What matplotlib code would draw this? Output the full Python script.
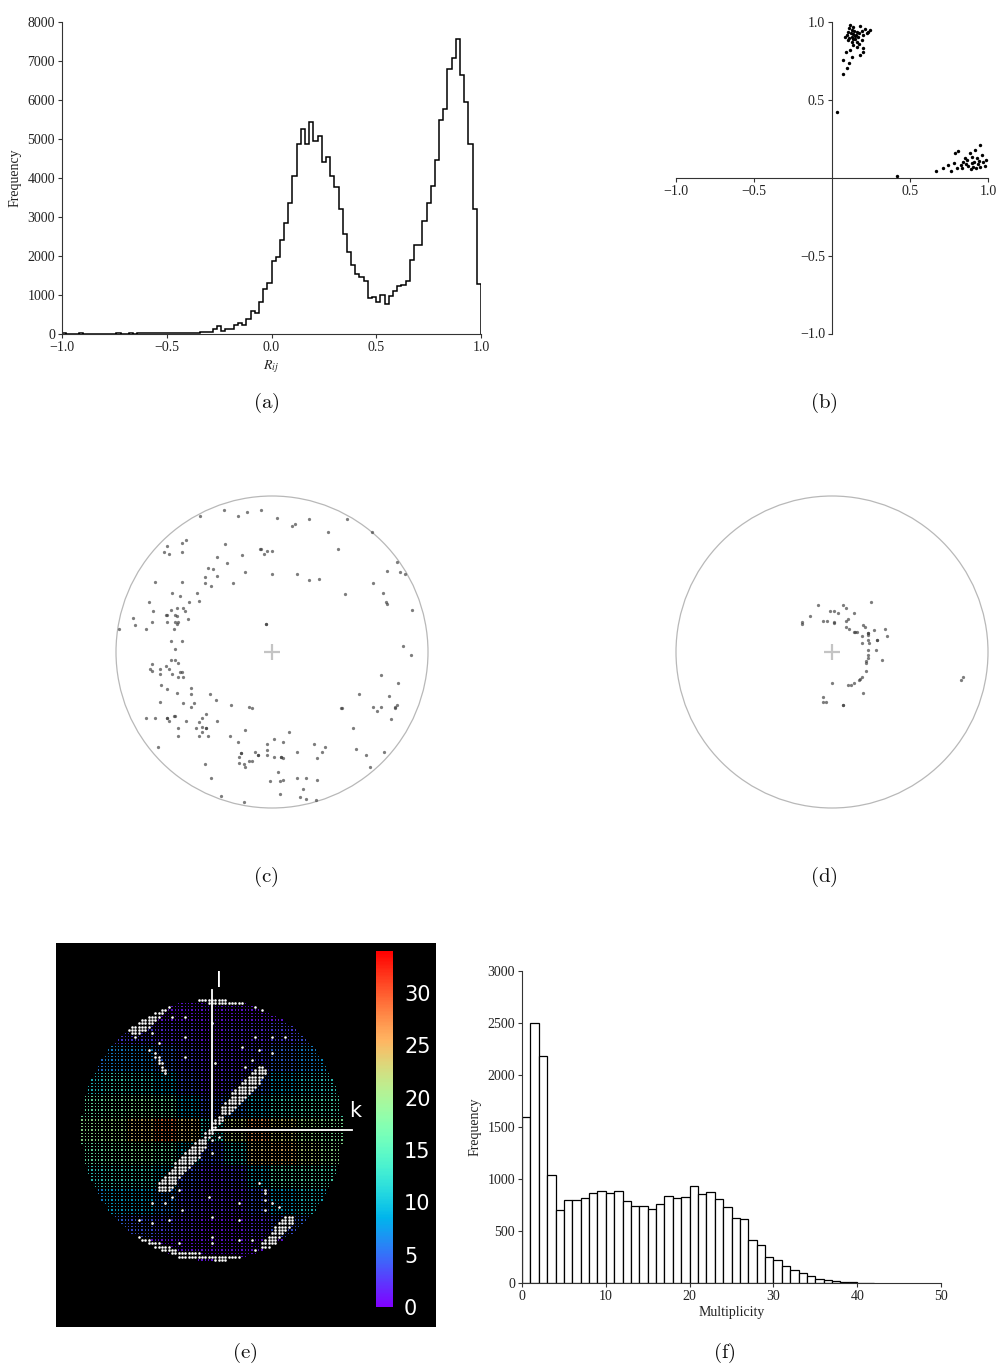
import numpy as np
import matplotlib
matplotlib.use('Agg')
import matplotlib.pyplot as plt
from matplotlib.patches import Circle
from matplotlib.colors import Normalize
from matplotlib.cm import ScalarMappable

plt.rcParams['font.family'] = ['Liberation Serif', 'DejaVu Serif']
plt.rcParams['axes.unicode_minus'] = True

# ---------------- data ----------------
# (a) histogram of R_ij : 100 bins of width 0.02 from -1 to 1
rij_bin_edges = np.round(np.linspace(-1.0, 1.0, 101), 2)
rij_counts = [15, 10, 5, 10, 15, 5, 10, 5, 5, 10,
              10, 5, 10, 15, 10, 10, 15, 10, 15, 20,
              15, 20, 20, 25, 20, 25, 30, 25, 20, 15,
              25, 30, 35, 40, 45, 50,
              140, 215, 75, 130, 130, 220, 280, 220, 390, 580,
              540, 810, 1150, 1300, 1880, 1980, 2400, 2850, 3360, 4040,
              4880, 5260, 4880, 5430, 4960, 5070, 4410, 4540, 4040, 3770,
              3210, 2570, 2100, 1760, 1550, 1460, 1350, 930, 960, 810,
              990, 760, 980, 1110, 1240, 1250, 1360, 1890, 2270, 2270,
              2910, 3360, 3790, 4450, 5500, 5770, 6800, 7080, 7560, 6630,
              5950, 4880, 3200, 1290]
rij_ticks = [-1.0, -0.5, 0.0, 0.5, 1.0]
rij_yticks = [0, 1000, 2000, 3000, 4000, 5000, 6000, 7000, 8000]

# (b) scatter
b_x = [0.115, 0.137, 0.179, 0.244, 0.222, 0.201, 0.158, 0.094, 0.083, 0.105,
       0.126, 0.147, 0.169, 0.190, 0.137, 0.158, 0.115, 0.179, 0.196, 0.090,
       0.126, 0.073, 0.111, 0.094, 0.073, 0.030,
       0.111, 0.126, 0.141, 0.120, 0.137, 0.154, 0.105, 0.128, 0.145, 0.175,
       0.190, 0.211, 0.233, 0.162, 0.132, 0.111, 0.175, 0.201,
       0.419, 0.667, 0.709, 0.746, 0.761, 0.782, 0.804, 0.788, 0.810, 0.827,
       0.842, 0.853, 0.868, 0.885, 0.895, 0.906, 0.917, 0.927, 0.938, 0.949,
       0.960, 0.970, 0.981, 0.874, 0.889, 0.910, 0.859, 0.923, 0.944, 0.895,
       0.949, 0.987, 0.831]
b_y = [0.980, 0.969, 0.976, 0.948, 0.927, 0.916, 0.937, 0.916, 0.905, 0.884,
       0.873, 0.894, 0.905, 0.884, 0.852, 0.841, 0.820, 0.787, 0.805, 0.805,
       0.777, 0.755, 0.738, 0.702, 0.663, 0.419,
       0.959, 0.948, 0.941, 0.927, 0.920, 0.916, 0.937, 0.905, 0.911, 0.927,
       0.941, 0.954, 0.937, 0.869, 0.890, 0.899, 0.856, 0.830,
       0.013, 0.045, 0.064, 0.081, 0.043, 0.092, 0.060, 0.156, 0.171, 0.081,
       0.103, 0.128, 0.113, 0.156, 0.092, 0.071, 0.178, 0.124, 0.086, 0.210,
       0.146, 0.103, 0.077, 0.077, 0.056, 0.099, 0.086, 0.060, 0.107, 0.135,
       0.071, 0.113, 0.060]
b_ticks = [-1.0, -0.5, 0.5, 1.0]

# (c) projected poles, in percent of the primitive circle radius
c_u = [-46, -31, -22, -16, -7, 3, 13, 15, 24, 36, 48, 64, -67, -69, -66, -58, -55, -58,
       -30, -35, -19, -8, -7, -5, -3, 0, 42, 80, -29, -41, -38, -35, -43, -43, -39, -75,
       -58, -25, -17, 0, 16, 24, 30, 74, 82, 85, 65, -64, -59, -48, -47, -53, 71, 47,
       73, 74, -79, -76, -89, -88, -81, -77, -68, -67, -65, -61, -57, -56, -54, -62, -61, -62,
       -60, -61, -67, -63, -65, -58, -62, -4, -98, 90, 84, 89, -65, -62, -60, -77, -78, -77,
       -72, -68, -66, -64, -59, -58, -60, -57, -72, -71, -67, -61, -52, -52, -57, -50, -52, -40,
       -36, -26, -15, -13, 70, 81, 56, 75, -72, -81, -75, -67, -66, -63, -62, -60, -55, -49,
       -47, -45, -45, -42, -42, -35, -45, -47, -41, -60, 44, 45, 65, 67, 70, 79, 80, 79,
       76, 52, -17, -27, -73, -22, -20, -21, -11, -9, -13, -15, -21, -18, -17, -3, -3, 1,
       7, -3, 1, 6, 7, 11, 16, 27, 34, 32, 29, 54, 60, 72, 63, -43, -39, -33, -18, -1,
       5, 7, 4, 5, 16, 22, 29, 20, 18, 22, 28, -4, -67, -42, -20, -9, 6]
c_v = [87, 91, 87, 90, 91, 86, 81, 82, 85, 77, 85, 77, 68, 64, 63, 70, 72, 64,
       69, 61, 62, 66, 66, 63, 65, 65, 66, 58, 57, 54, 53, 49, 48, 44, 42, 45,
       45, 44, 51, 50, 50, 46, 47, 52, 51, 50, 44, 38, 36, 38, 33, 32, 38, 37,
       32, 31, 32, 26, 22, 17, 15, 19, 24, 24, 27, 28, 28, 26, 21, 24, 23, 19,
       19, 18, 19, 15, 7, 7, 2, 18, 15, 27, 4, -2, -5, -5, -7, -8, -11, -12,
       -11, -9, -11, -14, -13, -13, -16, -16, -14, -21, -24, -26, -23, -27, -33, -33, -35, -27,
       -31, -34, -35, -36, -15, -20, -27, -28, -32, -42, -42, -42, -44, -41, -41, -49, -44, -49,
       -45, -42, -48, -49, -40, -44, -51, -54, -54, -54, -36, -36, -35, -38, -35, -35, -34, -36,
       -43, -49, -50, -54, -61, -58, -65, -67, -64, -66, -70, -70, -71, -72, -74, -59, -63, -56,
       -58, -66, -67, -67, -68, -51, -64, -59, -61, -64, -68, -62, -66, -64, -74, -72, -81, -92, -96, -83,
       -83, -82, -77, -91, -81, -81, -82, -88, -93, -94, -95, 18, -42, -49, -65, -66, -67]

# (d) projected poles, in percent of the primitive circle radius
d_u = [-9, -14, -19, -19, -1, 1, 4, 7, 9, 14, 25, -6, -3, 1, 1, 9, 10, 9, 11, 14,
       15, 16, 20, 21, 19, 23, 23, 27, 34, 35, 29, 23, 24, 19, 28, 32, 23, 23, 23, 22,
       22, 22, 19, 18, 17, 14, 12, 10, 0, 20, -6, -6, -4, 7, 83, 84, 23, 29, 7]
d_v = [30, 23, 19, 18, 26, 26, 25, 30, 28, 25, 32, 20, 20, 19, 18.5, 20, 21, 16, 15, 13,
       13, 13, 17, 16, 10, 12, 11, 14, 15, 10, 8, 8, 6, 6, 1, -5, 1, -2, -4, -6,
       -7, -12, -16, -17, -18, -20, -21, -21, -20, -26, -29, -32, -32, -34, -18, -16, 12, 8, -34]

# (e) multiplicity over the reciprocal-lattice section (coarse 11 x 11 reading, top row first)
e_grid = [
    [1, 1, 1, 1, 1, 1, 1, 1, 1, 1, 1],
    [2, 3, 3, 2, 2, 1, 2, 2, 3, 4, 4],
    [6, 7, 7, 5, 3, 2, 2, 3, 5, 7, 8],
    [11, 13, 12, 9, 4, 2, 3, 5, 9, 11, 12],
    [16, 17, 18, 16, 9, 4, 6, 10, 13, 14, 14],
    [19, 20, 24, 28, 24, 12, 22, 26, 23, 20, 18],
    [16, 17, 18, 16, 10, 4, 12, 24, 25, 22, 19],
    [12, 13, 13, 10, 4, 2, 3, 10, 15, 15, 14],
    [7, 9, 9, 6, 3, 2, 2, 4, 9, 11, 10],
    [3, 5, 4, 3, 2, 1, 1, 2, 4, 5, 5],
    [1, 1, 1, 1, 1, 1, 1, 1, 1, 1, 1],
]
e_vmax = 34
e_cbar_ticks = [0, 5, 10, 15, 20, 25, 30]
# white (unmeasured) reflections: strips (k0, l0, k1, l1, half width) and single spots, in lattice units
e_white_strips = [
    (0.5, 1.5, 5.0, 7.0, 1.0),
    (5.0, 7.0, 14.5, 17.5, 2.0),
    (-0.5, -0.5, -4.0, -5.0, 1.0),
    (-4.0, -5.0, -14.5, -17.0, 2.0),
    (-16.0, 36.0, -23.0, 30.0, 2.0),
    (10.0, 39.0, 22.4, 33.7, 0.9),
    (-8.5, 39.0, 9.0, 38.5, 0.8),
    (-17.0, 23.0, -14.0, 17.0, 0.6),
    (23.0, -27.0, 16.5, -34.3, 1.7),
    (-22.0, -32.7, -11.0, -36.5, 0.9),
    (-11.0, -37.5, 8.0, -38.5, 0.9),
]
e_white_spots = [(-13, 37), (-12, 34.5), (-8, 34), (-8, 28), (-8, 22.5), (1, 20.5), (9, 25),
                 (13, 28), (14, 24), (18, 28.5), (22, 28), (18, 23), (12, 21), (10, 19),
                 (0, 32.5), (-19, 24), (-16, 25.5), (-18, 29), (-22, 29.5),
                 (0, -3), (2, -2.5), (0, -7), (14, -15.7), (15.5, -18.5), (16.5, -19),
                 (16.5, -21), (17.5, -22), (18.5, -22.5), (19.5, -23), (16.5, -24.5),
                 (8, -21.5), (-1, -19.5), (-10, -17.5), (-12, -20), (-18, -22), (-14, -22.5),
                 (-9, -24), (0, -25.7), (8, -27), (-22, -27), (-18, -27.7), (-13, -27),
                 (0, -31.5), (0, -33.5), (8, -32.8), (12, -33.3), (13, -35.7), (-10, -34.5)]

# (f) multiplicity histogram
mult_bins = list(range(42))
mult_counts = [1596, 2503, 2183, 1042, 702, 798, 798, 820, 869, 885,
               862, 888, 792, 744, 740, 715, 763, 840, 820, 830,
               936, 859, 872, 808, 731, 628, 612, 410, 369, 250,
               218, 167, 122, 99, 70, 42, 26, 16, 10, 6, 3, 2]
mult_xticks = [0, 10, 20, 30, 40, 50]
mult_yticks = [0, 500, 1000, 1500, 2000, 2500, 3000]

# ---------------- figure ----------------
W, H = 996, 1366
fig = plt.figure(figsize=(W / 100, H / 100), dpi=100)


def box(x0, y0, x1, y1):
    return [x0 / W, 1 - y1 / H, (x1 - x0) / W, (y1 - y0) / H]


SP = '#333333'
TXT = '#222222'


def style_ax(ax):
    for s in ['top', 'right']:
        ax.spines[s].set_visible(False)
    for s in ['left', 'bottom']:
        ax.spines[s].set_color(SP)
        ax.spines[s].set_linewidth(0.8)
    ax.tick_params(direction='out', length=3, width=0.8, color=SP,
                   labelcolor=TXT, labelsize=10, pad=2)


# (a)
ax_a = fig.add_axes(box(62, 22, 481, 334))
ax_a.stairs(rij_counts, rij_bin_edges, color='black', lw=1.1)
ax_a.set_xlim(-1, 1)
ax_a.set_ylim(0, 8000)
ax_a.set_xticks(rij_ticks)
ax_a.set_yticks(rij_yticks)
style_ax(ax_a)
ax_a.set_ylabel('Frequency', fontsize=10, color=TXT, labelpad=4)
ax_a.set_xlabel(r'$R_{ij}$', fontsize=10, color=TXT, labelpad=3, math_fontfamily='stix')

# (b)
ax_b = fig.add_axes(box(676, 22, 988, 333.5))
ax_b.set_xlim(-1, 1)
ax_b.set_ylim(-1, 1)
ax_b.spines['left'].set_position(('data', 0))
ax_b.spines['bottom'].set_position(('data', 0))
style_ax(ax_b)
ax_b.set_xticks(b_ticks)
ax_b.set_yticks(b_ticks)
ax_b.scatter(b_x, b_y, s=6, color='black', linewidths=0, zorder=3)

# (c), (d)
for rect, uu, vv in [(box(116, 496, 428, 808), c_u, c_v), (box(676, 496, 988, 808), d_u, d_v)]:
    ax = fig.add_axes(rect)
    ax.set_xlim(-100, 100)
    ax.set_ylim(-100, 100)
    ax.axis('off')
    ax.add_patch(Circle((0, 0), 100, fill=False, ec='#b8b8b8', lw=0.9, clip_on=False))
    ax.plot([0], [0], marker='+', ms=11, mew=1.6, color='#c4c4c4')
    ax.scatter(uu, vv, s=5.5, color='#383838', alpha=0.65, linewidths=0, zorder=3)

# (e)
ax_e = fig.add_axes(box(56, 943, 436, 1327))
ax_e.set_facecolor('black')
for s in ax_e.spines.values():
    s.set_visible(False)
ax_e.set_xticks([])
ax_e.set_yticks([])
ax_e.set_xlim(-46.8, 67.2)
ax_e.set_ylim(-59.1, 56.1)

E_R = 39.3
kk, ll = np.meshgrid(np.arange(-40, 41), np.arange(-40, 41))
kk = kk.ravel().astype(float)
ll = ll.ravel().astype(float)
keep = kk ** 2 + ll ** 2 <= E_R ** 2
kk, ll = kk[keep], ll[keep]

grid = np.array(e_grid, dtype=float)
n = grid.shape[0]
col = np.clip(np.floor((kk / E_R + 1) / 2 * n), 0, n - 1).astype(int)
row = np.clip(np.floor((1 - ll / E_R) / 2 * n), 0, n - 1).astype(int)
vals = grid[row, col]

white = np.zeros(kk.shape, dtype=bool)
for (k0, l0, k1, l1, hw) in e_white_strips:
    dk, dl = k1 - k0, l1 - l0
    t = np.clip(((kk - k0) * dk + (ll - l0) * dl) / (dk * dk + dl * dl), 0, 1)
    d = np.hypot(kk - (k0 + t * dk), ll - (l0 + t * dl))
    white |= d <= hw
for (ks, ls) in e_white_spots:
    white |= (kk == np.round(ks)) & (ll == np.round(ls))

norm = Normalize(0, e_vmax)
ax_e.scatter(kk[~white], ll[~white], c=vals[~white], cmap='rainbow', norm=norm,
             s=0.9, marker='s', linewidths=0, alpha=0.8)
ax_e.scatter(kk[white], ll[white], color='white', s=3.4, marker='o', linewidths=0)
ax_e.plot([0, 0], [0, 42], color='white', lw=1.3)
ax_e.plot([0, 42], [0, 0], color='white', lw=1.3)
ax_e.text(2.1, 44.6, 'l', color='white', fontsize=15, ha='center', va='center', family='DejaVu Sans')
ax_e.text(42.8, 5.6, 'k', color='white', fontsize=15, ha='center', va='center', family='DejaVu Sans')

cax = fig.add_axes(box(376, 951, 393, 1307))
cb = fig.colorbar(ScalarMappable(norm=norm, cmap='rainbow'), cax=cax, ticks=e_cbar_ticks)
cb.outline.set_visible(False)
cax.tick_params(length=0, pad=8, labelsize=15, labelcolor='white')
for t in cax.get_yticklabels():
    t.set_family('DejaVu Sans')

# (f)
ax_f = fig.add_axes(box(522, 971, 941, 1283))
ax_f.bar(mult_bins, mult_counts, width=1.0, align='edge', color='white',
         edgecolor='black', linewidth=0.9)
ax_f.set_xlim(0, 50)
ax_f.set_ylim(0, 3000)
ax_f.set_xticks(mult_xticks)
ax_f.set_yticks(mult_yticks)
style_ax(ax_f)
ax_f.set_xlabel('Multiplicity', fontsize=10, color=TXT, labelpad=2)
ax_f.set_ylabel('Frequency', fontsize=10, color=TXT, labelpad=4)

# sub-figure captions
for lab, x, y in [('a', 266, 403), ('b', 824, 403), ('c', 266, 877), ('d', 824, 877),
                  ('e', 245, 1353), ('f', 724, 1353)]:
    fig.text(x / W, 1 - y / H, r'$\mathrm{(%s)}$' % lab, math_fontfamily='cm',
             fontsize=15, ha='center', va='center', color='#111111')

fig.savefig('out.png', dpi=100)
